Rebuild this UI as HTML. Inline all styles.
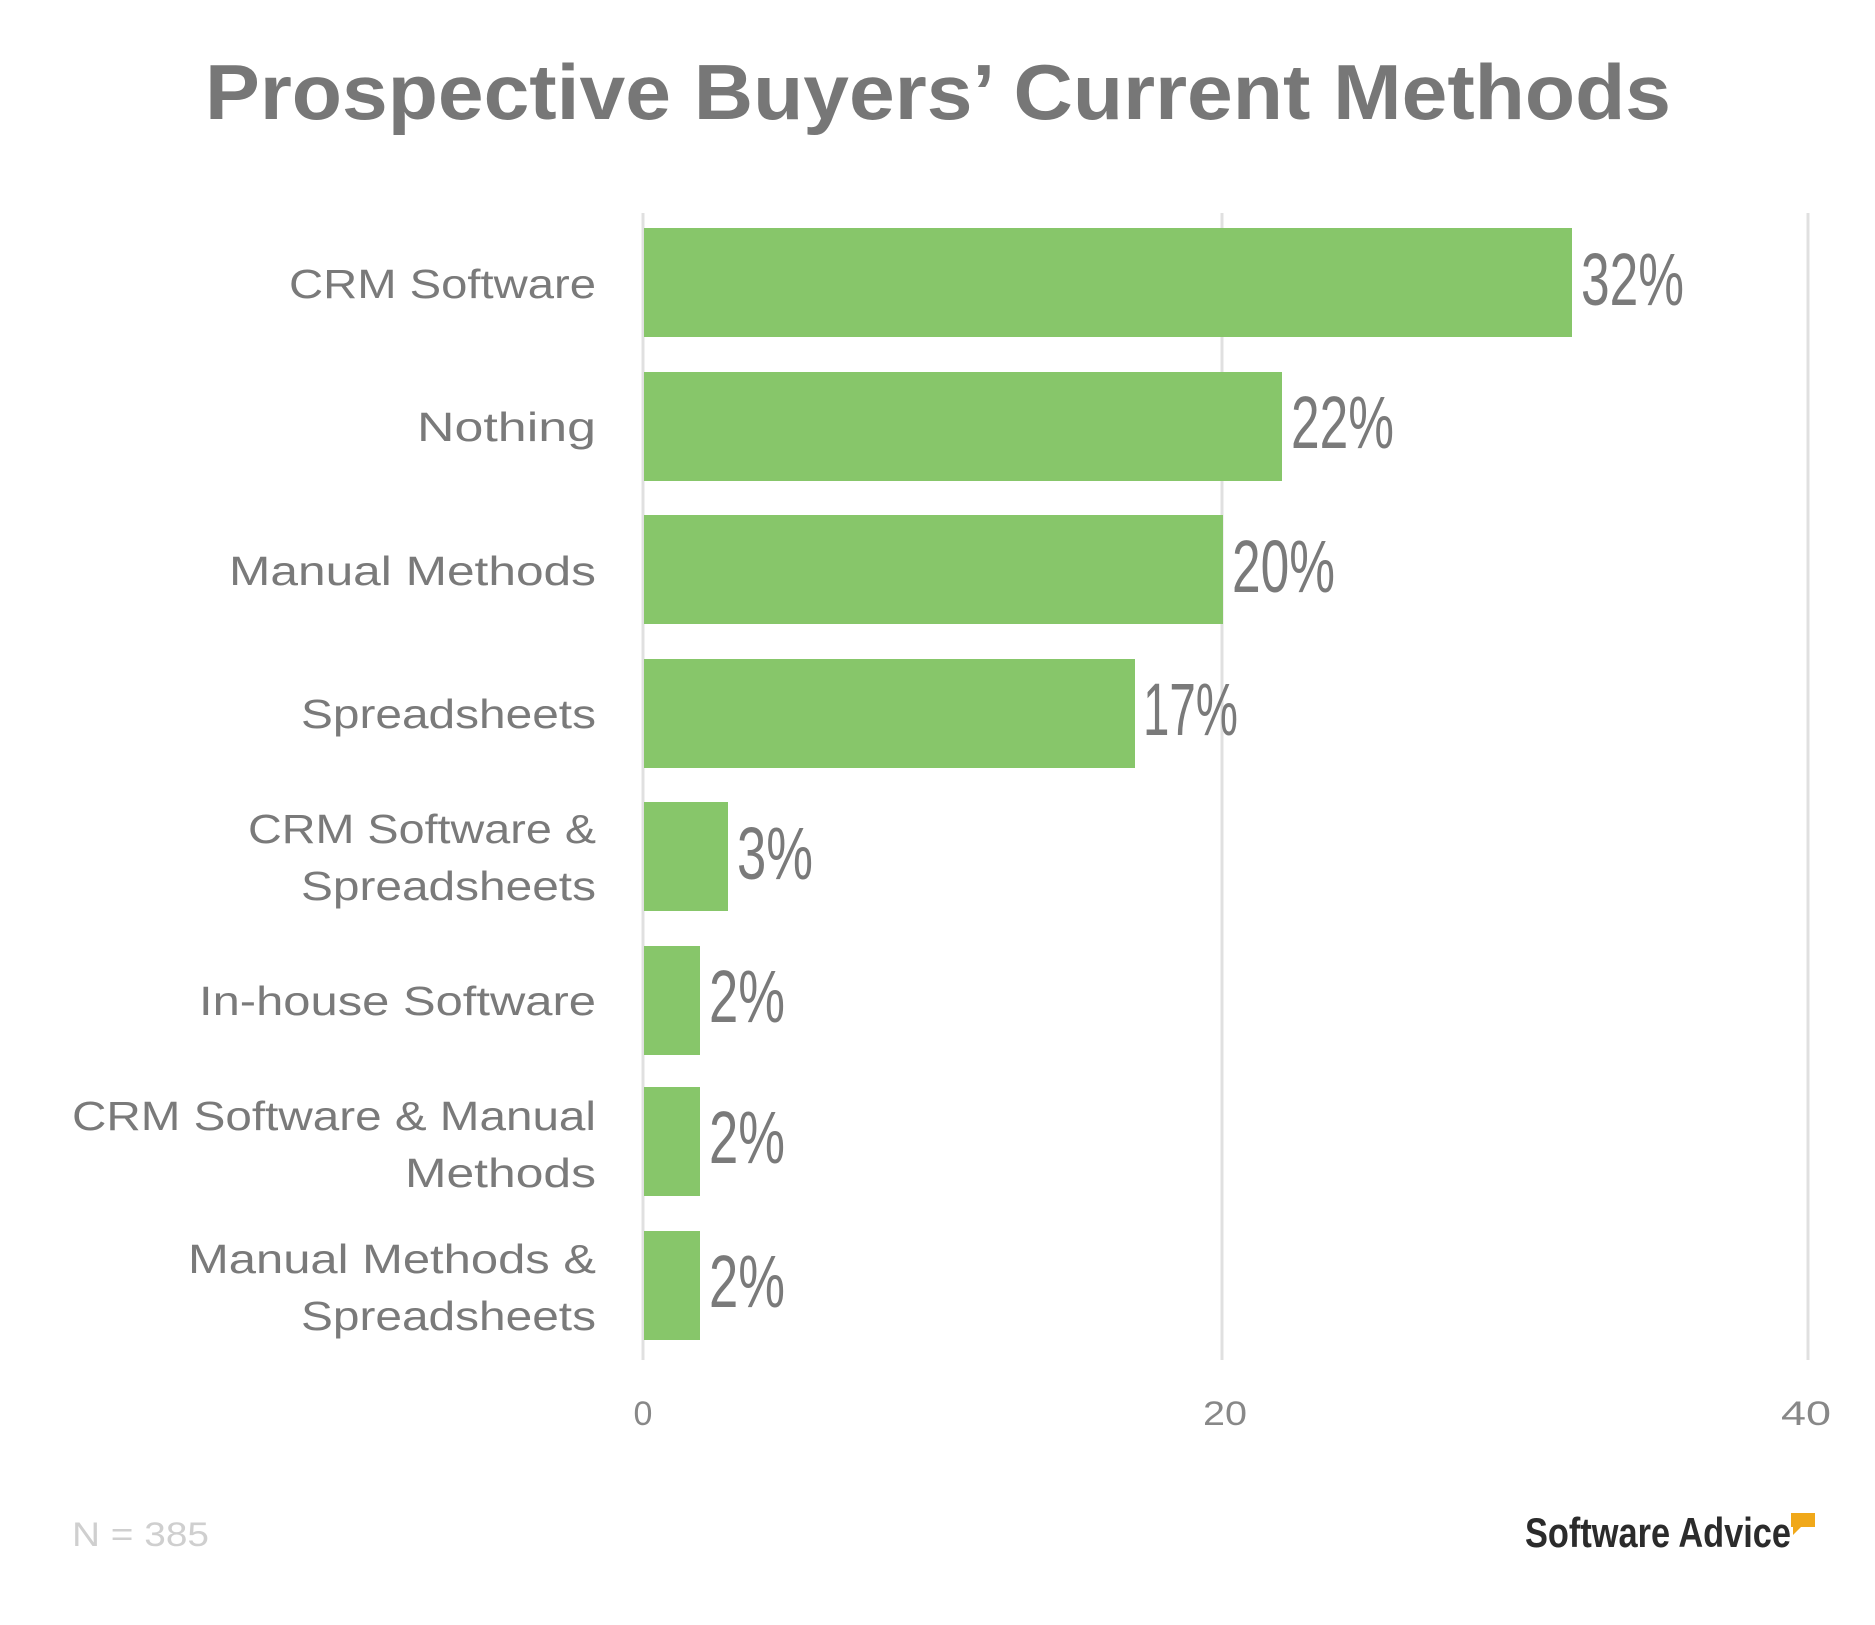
<!DOCTYPE html>
<html><head><meta charset="utf-8"><style>
html,body{margin:0;padding:0;background:#fff;}
svg{display:block;}
</style></head><body>
<svg width="1875" height="1625" viewBox="0 0 1875 1625" xmlns="http://www.w3.org/2000/svg">
<text x="938" y="119" text-anchor="middle" font-family="Liberation Sans, sans-serif" font-weight="bold" font-size="78" fill="#777" textLength="1466" lengthAdjust="spacingAndGlyphs">Prospective Buyers’ Current Methods</text>
<g stroke="#e0e0e0" stroke-width="3">
<line x1="643" y1="213" x2="643" y2="1360"/>
<line x1="1222" y1="213" x2="1222" y2="1360"/>
<line x1="1808" y1="213" x2="1808" y2="1360"/>
</g>
<g fill="#87c66a">
<rect x="644" y="228" width="928" height="109"/>
<rect x="644" y="372" width="638" height="109"/>
<rect x="644" y="515" width="579" height="109"/>
<rect x="644" y="659" width="491" height="109"/>
<rect x="644" y="802" width="84" height="109"/>
<rect x="644" y="946" width="56" height="109"/>
<rect x="644" y="1087" width="56" height="109"/>
<rect x="644" y="1231" width="56" height="109"/>
</g>
<g font-family="Liberation Sans Narrow, Liberation Sans, sans-serif" font-size="74" fill="#7a7a7a">
<text x="1581" y="305" textLength="103" lengthAdjust="spacingAndGlyphs">32%</text>
<text x="1291" y="448" textLength="103" lengthAdjust="spacingAndGlyphs">22%</text>
<text x="1232" y="592" textLength="103" lengthAdjust="spacingAndGlyphs">20%</text>
<text x="1143" y="735" textLength="95" lengthAdjust="spacingAndGlyphs">17%</text>
<text x="737" y="879" textLength="76" lengthAdjust="spacingAndGlyphs">3%</text>
<text x="709" y="1022" textLength="76" lengthAdjust="spacingAndGlyphs">2%</text>
<text x="709" y="1163" textLength="76" lengthAdjust="spacingAndGlyphs">2%</text>
<text x="709" y="1307" textLength="76" lengthAdjust="spacingAndGlyphs">2%</text>
</g>
<g font-family="Liberation Sans, sans-serif" font-size="41" fill="#7a7a7a" text-anchor="end" lengthAdjust="spacingAndGlyphs">
<text x="596" y="298" textLength="307" lengthAdjust="spacingAndGlyphs">CRM Software</text>
<text x="596" y="441" textLength="179" lengthAdjust="spacingAndGlyphs">Nothing</text>
<text x="596" y="585" textLength="367" lengthAdjust="spacingAndGlyphs">Manual Methods</text>
<text x="596" y="728" textLength="295" lengthAdjust="spacingAndGlyphs">Spreadsheets</text>
<text x="596" y="843" textLength="348" lengthAdjust="spacingAndGlyphs">CRM Software &amp;</text>
<text x="596" y="900" textLength="295" lengthAdjust="spacingAndGlyphs">Spreadsheets</text>
<text x="596" y="1015" textLength="397" lengthAdjust="spacingAndGlyphs">In-house Software</text>
<text x="596" y="1130" textLength="524" lengthAdjust="spacingAndGlyphs">CRM Software &amp; Manual</text>
<text x="596" y="1187" textLength="191" lengthAdjust="spacingAndGlyphs">Methods</text>
<text x="596" y="1273" textLength="408" lengthAdjust="spacingAndGlyphs">Manual Methods &amp;</text>
<text x="596" y="1330" textLength="295" lengthAdjust="spacingAndGlyphs">Spreadsheets</text>
</g>
<g font-family="Liberation Sans, sans-serif" font-size="34" fill="#888" text-anchor="middle">
<text x="643" y="1425">0</text>
<text x="1225" y="1425" textLength="44" lengthAdjust="spacingAndGlyphs">20</text>
<text x="1806" y="1425" textLength="50" lengthAdjust="spacingAndGlyphs">40</text>
</g>
<text x="72" y="1546" font-family="Liberation Sans, sans-serif" font-size="34" fill="#cfcfcf" textLength="137" lengthAdjust="spacingAndGlyphs">N = 385</text>
<text x="1525" y="1547" font-family="Liberation Sans Narrow, Liberation Sans, sans-serif" font-weight="bold" font-size="42" fill="#2b2b2b" textLength="266" lengthAdjust="spacingAndGlyphs">Software Advice</text>
<path d="M1791 1513 h24 v14 h-14 l-8 8 v-8 h-2 z" fill="#f0a81a"/>
</svg>
</body></html>
